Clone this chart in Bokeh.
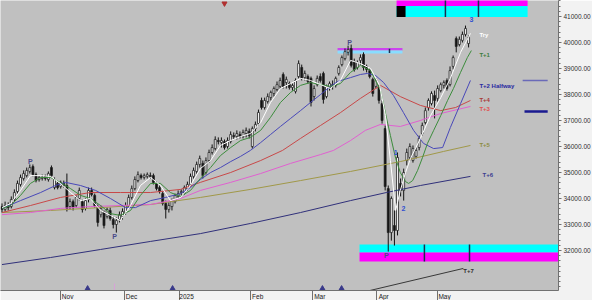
from bokeh.plotting import figure
from bokeh.models import ColumnDataSource, FixedTicker, PrintfTickFormatter, Range1d
from bokeh.core.properties import value
from bokeh.embed import file_html
from bokeh.resources import INLINE

# ---------------- daily candles (bar 0 = first session shown) ----------------
opens = [
    33690, 33580, 33730, 33690, 33960, 34270, 34540, 34770, 34880, 35040,
    35230, 34920, 34730, 34770, 34850, 34730, 35190, 34420, 34580, 34460,
    34580, 34500, 33690, 33880, 33730, 34000, 33880, 33620, 33960, 34310,
    34120, 33690, 33380, 33460, 33310, 33540, 33190, 33000, 33190, 33310,
    33460, 33690, 34040, 34380, 34690, 34880, 34810, 34850, 34880, 34880,
    34580, 34420, 34190, 33810, 33580, 33690, 33880, 34080, 34230, 34230,
    34380, 34540, 34850, 35040, 35310, 35350, 35000, 35460, 35770, 35920,
    36230, 36150, 36190, 36000, 36190, 36420, 36380, 36460, 36380, 36500,
    36580, 36000, 36690, 36880, 37770, 37500, 37730, 37880, 38040, 38190,
    38310, 38770, 38460, 38420, 38270, 38120, 38690, 39040, 38650, 38690,
    38620, 37920, 38380, 38690, 38810, 37920, 38270, 38380, 38350, 38810,
    39150, 39380, 39620, 39770, 39270, 39040, 39310, 39540, 39080, 38920,
    38580, 38310, 38310, 37650, 36690, 34380, 32690, 32960, 32770, 34580,
    34310, 35460, 35580, 35460, 35620, 35960, 36500, 36920, 37500, 37650,
    37960, 37850, 38150, 38350, 38540, 38380, 39080, 40150, 39920, 40080,
    40310, 39960,
]
closes = [
    33580, 33730, 33650, 33960, 34230, 34580, 34810, 34960, 35080, 35190,
    34920, 34690, 34810, 34810, 34770, 34960, 34880, 34730, 34420, 34620,
    34500, 33620, 33880, 33650, 34040, 34310, 33580, 33920, 34310, 34150,
    33730, 33080, 33620, 32960, 33580, 33230, 33000, 33150, 33380, 33500,
    33730, 34040, 34380, 34730, 34920, 34810, 34880, 34920, 34850, 34620,
    34380, 34270, 33810, 33580, 33730, 33920, 34120, 34190, 34270, 34420,
    34540, 34850, 35080, 35310, 35540, 34880, 35460, 35770, 35960, 36270,
    36190, 36230, 35960, 36230, 36460, 36380, 36500, 36380, 36540, 36620,
    36420, 36690, 36850, 37310, 37500, 37770, 37920, 38080, 38230, 38380,
    38540, 38310, 38580, 38270, 38350, 38540, 39190, 38620, 38810, 38500,
    37690, 38230, 38620, 38540, 37810, 38310, 38420, 38310, 38620, 39040,
    39420, 39650, 39730, 39120, 38960, 39230, 39420, 39040, 38960, 38690,
    38040, 38540, 37770, 37000, 34460, 32690, 34000, 32770, 35580, 34310,
    35000, 35770, 36000, 35920, 35850, 36310, 36810, 37380, 37770, 38040,
    37770, 38230, 38380, 38460, 38230, 38920, 39420, 39850, 40120, 40310,
    40540, 40190,
]
highs = [
    33810, 33880, 33850, 34080, 34350, 34690, 34920, 35080, 35190, 35310,
    35310, 35000, 34880, 34920, 34920, 35040, 35270, 34810, 34650, 34690,
    34690, 34960, 34000, 33960, 34120, 34420, 33960, 34000, 34420, 34420,
    34190, 33770, 33730, 33540, 33650, 33650, 33310, 33270, 33500, 33620,
    33850, 34150, 34500, 34850, 35040, 34960, 34960, 35000, 35000, 34960,
    34650, 34500, 34270, 33920, 33850, 34000, 34190, 34310, 34350, 34500,
    34650, 34960, 35190, 35420, 35650, 35460, 35580, 35880, 36080, 36390,
    36350, 36350, 36270, 36350, 36580, 36540, 36620, 36580, 36650, 36730,
    36690, 36770, 36960, 37420, 37880, 37880, 38040, 38150, 38310, 38500,
    38650, 38850, 38690, 38500, 38420, 38620, 39310, 39150, 38920, 38770,
    38690, 38350, 38730, 38810, 38880, 38380, 38500, 38540, 38690, 39120,
    39500, 39770, 39880, 39920, 39380, 39310, 39540, 39620, 39150, 39000,
    38650, 38620, 38380, 37770, 36810, 34500, 34080, 33540, 35770, 34770,
    35150, 35920, 36120, 36040, 35960, 36420, 36920, 37500, 37850, 38120,
    38150, 38350, 38460, 38540, 38620, 39080, 39500, 40230, 40230, 40420,
    40650, 40270,
]
lows = [
    33460, 33500, 33540, 33620, 33880, 34190, 34460, 34690, 34810, 34960,
    34850, 34620, 34650, 34690, 34690, 34650, 34810, 34350, 34350, 34380,
    34420, 33500, 33580, 33540, 33650, 33920, 33460, 33540, 33850, 34080,
    33650, 32920, 33270, 32850, 33230, 33150, 32850, 32690, 33080, 33190,
    33380, 33620, 33960, 34310, 34620, 34730, 34730, 34770, 34770, 34540,
    34310, 34190, 33730, 33230, 33460, 33540, 33810, 34000, 34120, 34150,
    34310, 34460, 34770, 34960, 35190, 34770, 34920, 35380, 35690, 35850,
    36080, 35960, 35880, 35920, 36120, 36270, 36270, 36310, 36310, 36350,
    36310, 35920, 36580, 36810, 37420, 37420, 37650, 37770, 37920, 38120,
    38230, 38230, 38230, 38190, 38150, 38040, 38620, 38540, 38540, 38420,
    37540, 37770, 38310, 38460, 37650, 37850, 38150, 38190, 38270, 38730,
    39080, 39310, 39500, 39040, 38880, 38960, 39150, 38920, 38850, 38620,
    37920, 38230, 37650, 36880, 34310, 31960, 32380, 32190, 32580, 34080,
    33920, 35270, 35460, 35380, 35540, 35850, 36420, 36850, 37380, 37580,
    37080, 37730, 38080, 38230, 38150, 38310, 38960, 39620, 39850, 40000,
    40230, 39810,
]

# ---------------- axes ----------------
month_pos = [18.9, 39.6, 57.4, 80.4, 100.5, 121.2, 140.9]
month_names = ["Nov", "Dec", "2025", "Feb", "Mar", "Apr", "May"]
price_ticks = [32000, 33000, 34000, 35000, 36000, 37000, 38000, 39000, 40000, 41000]

# ---------------- averages and projections: (bar, price) ----------------
try_x = [0, 2.8, 6, 9.2, 12.5, 15.7, 18.9, 22.2, 25.4, 28.6, 31.9, 35.1, 38.3, 41.6, 44.8,
         48.1, 51.3, 54.5, 57.8, 61, 64.2, 67.5, 70.7, 74, 77.2, 80.4, 83.7, 86.9, 90.1,
         93.4, 96.6, 99.8, 103.1, 106.3, 109.5, 112.8, 116, 119.3, 122.2, 124.1, 125.7,
         127.4, 128.9, 130.6, 132.2, 135.4, 138.7, 142, 145.1, 148.4, 151.6]
try_y = [33650, 33810, 34310, 34880, 34880, 34850, 34580, 34230, 33920, 34000, 33540, 33350,
         33150, 33730, 34500, 34810, 34500, 33920, 34040, 34500, 35150, 35460, 36040, 36230,
         36380, 36500, 36920, 37690, 38230, 38420, 38620, 38540, 38380, 38230, 38540, 39310,
         39190, 39000, 38350, 37190, 35460, 33540, 34310, 35000, 35540, 36310, 37190, 37880,
         38620, 39620, 40350]

t1_x = [0, 2.8, 6, 9.2, 12.5, 15.7, 18.9, 22.2, 25.4, 28.6, 31.9, 35.1, 38.3, 41.6, 44.8,
        48.1, 51.3, 54.5, 57.8, 61, 64.2, 67.5, 70.7, 74, 77.2, 80.4, 83.7, 86.9, 90.1, 93.4,
        96.6, 99.8, 103.1, 106.3, 109.5, 112.8, 116, 119.3, 122.5, 125.7, 127.4, 128.9,
        130.6, 131.6, 132.9, 134.5, 136.1, 137.7, 139.7, 142, 144.2, 146.1, 148.4, 150.6,
        151.9]
t1_y = [33620, 33730, 34120, 34580, 34810, 34810, 34620, 34380, 34120, 34000, 33730, 33420,
        33350, 33540, 34120, 34580, 34580, 34230, 34080, 34310, 34770, 35190, 35650, 35960,
        36230, 36350, 36620, 37120, 37690, 38080, 38350, 38460, 38380, 38310, 38420, 38850,
        39120, 38920, 38150, 36420, 35540, 35000, 34650, 34580, 34690, 35080, 35580, 36120,
        36620, 37190, 37770, 38230, 38850, 39420, 39690]

t2_x = [0, 6, 12.5, 17.3, 20.6, 25.4, 30.3, 35.1, 40, 43.2, 48.1, 52.9, 57.8, 61, 64.2,
        67.5, 70.7, 74, 77.2, 80.4, 83.7, 86.9, 90.1, 93.4, 96.6, 99.8, 103.1, 106.3, 108.6,
        112.8, 116, 118.3, 120.9, 123.5, 126.7, 129.9, 133.2, 136.4, 139.7, 142.6, 145.1,
        148.4, 151.6]
t2_y = [33620, 33920, 34230, 34500, 34620, 34500, 34310, 34000, 33650, 33650, 33920, 34040,
        34190, 34420, 34730, 35000, 35190, 35420, 35620, 35850, 36150, 36460, 36770, 37080,
        37380, 37690, 38000, 38310, 38500, 38650, 38770, 38810, 38730, 38460, 37960, 37310,
        36620, 36120, 35920, 35960, 36730, 37650, 38540]

t4_x = [0, 9.2, 18.9, 28.6, 38.3, 48.1, 57.8, 64.2, 74, 83.7, 90.8, 96.6, 103.1, 109.5,
        116, 122.5, 128.9, 135.4, 142, 146.8, 151.6]
t4_y = [33460, 33730, 34040, 34230, 34230, 34230, 34350, 34620, 35000, 35460, 35850, 36310,
        36810, 37300, 37850, 38350, 37920, 37580, 37380, 37500, 37770]

t3_x = [0, 9.2, 18.9, 28.6, 38.3, 48.1, 57.8, 64.2, 74, 83.7, 93.4, 103.1, 107.3, 112.8,
        117.6, 122.5, 128.9, 135.4, 142, 151.6]
t3_y = [33380, 33460, 33620, 33690, 33730, 33770, 34000, 34310, 34620, 34960, 35350, 35690,
        35850, 36230, 36620, 36850, 36770, 37000, 37270, 37540]

t5_x = [0, 15.7, 31.9, 48.1, 64.2, 80.4, 96.6, 112.8, 128.9, 142.9, 151.6]
t5_y = [33460, 33540, 33650, 33770, 34040, 34350, 34690, 35040, 35420, 35810, 36040]

t6_x = [0, 15.7, 31.9, 48.1, 64.2, 80.4, 96.6, 112.8, 124.4, 135.4, 151.6]
t6_y = [31460, 31730, 32040, 32350, 32650, 33040, 33460, 33920, 34230, 34500, 34850]

t7_x = [117.6, 149.3]
t7_y = [30420, 31310]

# ---------------- price zones ----------------
zone_left = [127.7, 127.7, 127.7, 115.7, 115.7, 108.6, 108.6]
zone_right = [170.1, 170.1, 130.6, 182.0, 182.0, 129.6, 129.6]
zone_bottom = [40980, 41400, 40980, 31920, 31580, 39690, 39580]
zone_top = [41400, 41800, 41400, 32230, 31920, 39790, 39690]
zone_color = ["#00ffff", "#ff00ff", "#000000", "#00ffff", "#ff00ff", "#cc44ee", "#88ddff"]

mark_x = [143.5, 154.2, 136.7, 151.3, 125.4]
mark_lo = [40980, 40980, 31580, 31580, 39600]
mark_hi = [41800, 41800, 32230, 32230, 39760]

# side levels
level_x0 = [168.5, 169.1]
level_x1 = [176.6, 176.6]
level_y = [38540, 37350]

# pivots and wave counts
pivot_x = [112.5, 9.2, 36.4, 124.4]
pivot_y = [40000, 35420, 32540, 31810]
wave_x = [127.4, 129.9, 151.9]
wave_y = [35770, 33620, 40880]
wave_text = ["1", "2", "3"]

# projection labels
tag_x = [154.5, 154.5, 154.5, 154.5, 154.5, 154.5, 155.5, 149.3]
tag_y = [40270, 39500, 38310, 37770, 37460, 36040, 34890, 31230]
tag_text = ["Try", "T+1", "T+2 Halfway", "T+4", "T+3", "T+5", "T+6", "T+7"]

# event markers
arrow_x = [27.7, 55.2, 103.7, 109.9]
arrow_y = [30540, 30540, 30540, 30540]

FONT = value("Liberation Sans")

p = figure(
    frame_width=558, frame_height=290,
    x_range=Range1d(-0.49, 180.1), y_range=Range1d(30462, 41615),
    y_axis_location="right",
    output_backend="svg", toolbar_location=None,
    min_border_left=0, min_border_top=0, min_border_right=34, min_border_bottom=10,
    background_fill_color="#c0c0c0", border_fill_color="#f2f2f2",
    outline_line_color=None,
)
p.grid.grid_line_color = None

# x axis: month dividers with names to their right
p.xaxis.ticker = FixedTicker(ticks=month_pos, minor_ticks=[])
p.xaxis.major_label_overrides = {pos: "\u00a0" * 8 + name for pos, name in zip(month_pos, month_names)}
p.xaxis.major_tick_out = 10
p.xaxis.major_tick_in = 0
p.xaxis.major_label_standoff = -8
p.xaxis.major_label_text_font = "Liberation Sans"
p.xaxis.major_label_text_font_size = "6.5px"
p.xaxis.major_label_text_color = "#202020"
p.xaxis.axis_line_color = "#707070"
p.xaxis.major_tick_line_color = "#707070"

# y axis on the right
p.yaxis.ticker = FixedTicker(ticks=price_ticks,
                             minor_ticks=list(range(30600, 41601, 200)))
p.yaxis.formatter = PrintfTickFormatter(format="%.2f")
p.yaxis.major_tick_out = 3
p.yaxis.major_tick_in = 0
p.yaxis.minor_tick_out = 2
p.yaxis.minor_tick_in = 0
p.yaxis.major_label_standoff = 2
p.yaxis.major_label_text_font = "Liberation Sans"
p.yaxis.major_label_text_font_size = "6.5px"
p.yaxis.major_label_text_color = "#303030"
p.yaxis.axis_line_color = "#707070"
p.yaxis.major_tick_line_color = "#707070"
p.yaxis.minor_tick_line_color = "#707070"

# zones
p.quad(left=zone_left, right=zone_right, bottom=zone_bottom, top=zone_top,
       fill_color=zone_color, line_color=None)
p.segment(x0=mark_x, y0=mark_lo, x1=mark_x, y1=mark_hi, line_color="#1a3050", line_width=1.5)

# candles
n = len(closes)
idx = list(range(n))
body_top = [max(o, c) for o, c in zip(opens, closes)]
body_bot = [min(o, c) for o, c in zip(opens, closes)]
body_fill = ["#ffffff" if c >= o else "#111111" for o, c in zip(opens, closes)]
src = ColumnDataSource(dict(x=idx, hi=highs, lo=lows, top=body_top, bot=body_bot, fill=body_fill))
p.segment(x0="x", y0="lo", x1="x", y1="hi", source=src, line_color="#111111", line_width=1)
p.vbar(x="x", top="top", bottom="bot", width=0.62, fill_color="fill",
       line_color="#222222", line_width=0.8, source=src)

# averages / projections
p.line(t6_x, t6_y, line_color="#30307a", line_width=1)
p.line(t5_x, t5_y, line_color="#a09848", line_width=1)
p.line(t3_x, t3_y, line_color="#e060d0", line_width=1)
p.line(t4_x, t4_y, line_color="#c84848", line_width=1)
p.line(t2_x, t2_y, line_color="#4848b8", line_width=1)
p.line(t1_x, t1_y, line_color="#3c8c3c", line_width=1)
p.line(try_x, try_y, line_color="#ffffff", line_width=1)
p.line(t7_x, t7_y, line_color="#383838", line_width=1)

# side levels
p.segment(x0=level_x0[:1], y0=level_y[:1], x1=level_x1[:1], y1=level_y[:1],
          line_color="#6a6ab8", line_width=1.5)
p.segment(x0=level_x0[1:], y0=level_y[1:], x1=level_x1[1:], y1=level_y[1:],
          line_color="#1a1a90", line_width=2.5)

# event markers
p.scatter(arrow_x, arrow_y, marker="triangle", size=5, color="#3a3a8a")
p.scatter([72.0], [41500], marker="inverted_triangle", size=5, color="#b03030")
p.segment(x0=[36.4], y0=[30460], x1=[36.4], y1=[30730], line_color="#d8a0d8", line_width=1)

# labels
p.text(x=pivot_x, y=pivot_y, text=["P"] * len(pivot_x), text_font=FONT,
       text_font_size="7px", text_font_style="bold", text_color="#4a4a8a",
       text_align="center", text_baseline="middle")
p.text(x=wave_x, y=wave_y, text=wave_text, text_font=FONT,
       text_font_size="7px", text_font_style="bold", text_color="#3050d0",
       text_align="center", text_baseline="middle")
tag_src = ColumnDataSource(dict(
    x=tag_x, y=tag_y, t=tag_text,
    c=["#ffffff", "#3c7c3c", "#2828a0", "#a83838", "#e05050", "#8c8c40", "#3c3c90", "#303030"],
))
p.text(x="x", y="y", text="t", text_color="c", source=tag_src, text_font=FONT,
       text_font_size="6px", text_font_style="bold",
       text_align="left", text_baseline="middle")

open("out.html", "w").write(file_html(p, INLINE))
